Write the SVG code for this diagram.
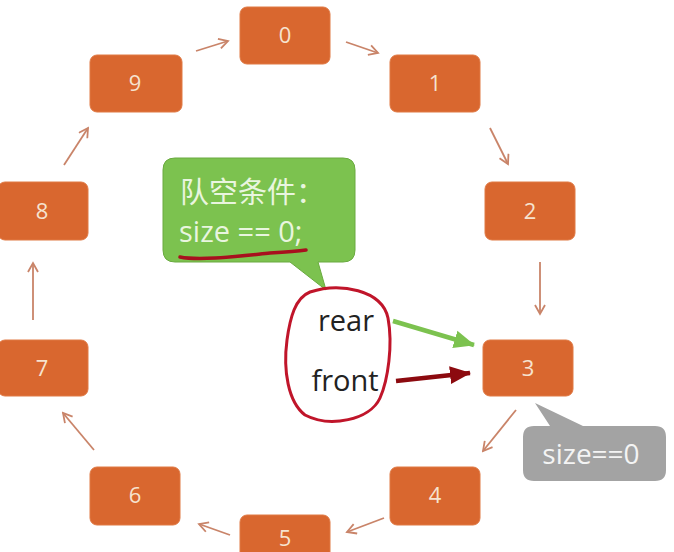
<svg xmlns="http://www.w3.org/2000/svg" width="674" height="552" viewBox="0 0 674 552">
<defs>
<style>
.box{fill:#d9672f;stroke:#e07a45;stroke-width:1}
.lbl{font-family:"Open Sans","Liberation Sans",sans-serif;font-size:22px;fill:#f6e3cf;text-anchor:middle}
.con{stroke:#c98469;stroke-width:1.8;fill:none}
.big{font-family:"Open Sans","Liberation Sans",sans-serif;font-size:29px}
.cjk{font-family:"Noto Sans CJK SC","Noto Sans",sans-serif;font-size:29px}
</style>
<marker id="ah" markerWidth="12" markerHeight="12" refX="10" refY="6" orient="auto" markerUnits="userSpaceOnUse">
<path d="M1,1 L10,6 L1,11" fill="none" stroke="#c98469" stroke-width="1.8"/>
</marker>
<marker id="gh" markerWidth="22" markerHeight="20" refX="20" refY="10" orient="auto" markerUnits="userSpaceOnUse">
<path d="M0,1 L21,10 L0,19 Z" fill="#7cc24f"/>
</marker>
<marker id="rh" markerWidth="22" markerHeight="20" refX="20" refY="10" orient="auto" markerUnits="userSpaceOnUse">
<path d="M0,1 L21,10 L0,19 Z" fill="#8c0a0f"/>
</marker>
</defs>
<rect width="674" height="552" fill="#ffffff"/>
<g id="connectors">
<line class="con" x1="196" y1="51" x2="228" y2="41" marker-end="url(#ah)"/>
<line class="con" x1="346" y1="42" x2="378" y2="53" marker-end="url(#ah)"/>
<line class="con" x1="490" y1="128" x2="508" y2="164" marker-end="url(#ah)"/>
<line class="con" x1="540" y1="262" x2="540" y2="314" marker-end="url(#ah)"/>
<line class="con" x1="516" y1="410" x2="483" y2="451" marker-end="url(#ah)"/>
<line class="con" x1="384" y1="518" x2="347" y2="532" marker-end="url(#ah)"/>
<line class="con" x1="230" y1="535" x2="199" y2="524" marker-end="url(#ah)"/>
<line class="con" x1="94" y1="450" x2="63" y2="413" marker-end="url(#ah)"/>
<line class="con" x1="33" y1="320" x2="33" y2="263" marker-end="url(#ah)"/>
<line class="con" x1="64" y1="165" x2="88" y2="128" marker-end="url(#ah)"/>
<line x1="393" y1="321" x2="474" y2="345" stroke="#7cc24f" stroke-width="4.5" marker-end="url(#gh)"/>
<line x1="396" y1="381" x2="470" y2="373" stroke="#8c0a0f" stroke-width="4.5" marker-end="url(#rh)"/>
</g>
<g id="n0"><rect class="box" x="240" y="7" width="90" height="57" rx="7"/><text class="lbl" x="285" y="43">0</text></g>
<g id="n1"><rect class="box" x="390" y="55" width="90" height="57" rx="7"/><text class="lbl" x="435" y="91">1</text></g>
<g id="n2"><rect class="box" x="485" y="182" width="90" height="58" rx="7"/><text class="lbl" x="530" y="219">2</text></g>
<g id="n3"><rect class="box" x="483" y="340" width="90" height="56" rx="7"/><text class="lbl" x="528" y="376">3</text></g>
<g id="n4"><rect class="box" x="390" y="467" width="90" height="58" rx="7"/><text class="lbl" x="435" y="503">4</text></g>
<g id="n5"><rect class="box" x="240" y="515" width="90" height="57" rx="7"/><text class="lbl" x="285" y="546">5</text></g>
<g id="n6"><rect class="box" x="90" y="467" width="90" height="58" rx="7"/><text class="lbl" x="135" y="503">6</text></g>
<g id="n7"><rect class="box" x="-2" y="340" width="90" height="56" rx="7"/><text class="lbl" x="42" y="376">7</text></g>
<g id="n8"><rect class="box" x="-2" y="182" width="90" height="58" rx="7"/><text class="lbl" x="42" y="219">8</text></g>
<g id="n9"><rect class="box" x="90" y="55" width="92" height="57" rx="7"/><text class="lbl" x="135" y="91">9</text></g>
<g id="callout-green">
<path d="M175,158 H343 Q355,158 355,170 V250 Q355,262 343,262 H318 L326,290 L290,262 H175 Q163,262 163,250 V170 Q163,158 175,158 Z" fill="#7cc24f" stroke="#6aaa40" stroke-width="1"/>
<text class="cjk" x="180" y="203" fill="#e9f5df">队空条件：</text>
<text class="big" x="179" y="242" fill="#e9f5df">size == 0;</text>
<path d="M180,257 C200,261 240,256 270,253 C285,252 298,251 306,250" fill="none" stroke="#a8101e" stroke-width="3.5" stroke-linecap="round"/>
</g>
<g id="pointers">
<path d="M310,292 C340,282 382,290 388,318 C393,345 388,380 380,398 C370,420 330,428 305,415 C288,402 283,370 287,340 C290,318 295,298 310,292 Z" fill="none" stroke="#c0152a" stroke-width="3"/>
<text class="big" x="346" y="331" fill="#222" text-anchor="middle">rear</text>
<text class="big" x="345" y="391" fill="#222" text-anchor="middle">front</text>
</g>
<g id="callout-gray">
<path d="M535,403 L583,426 H655 Q666,426 666,437 V470 Q666,481 655,481 H534 Q523,481 523,470 V437 Q523,426 534,426 H550 Z" fill="#a3a3a3"/>
<text class="big" x="591" y="464" fill="#f4f4f4" text-anchor="middle" style="font-size:28px">size==0</text>
</g>
</svg>
